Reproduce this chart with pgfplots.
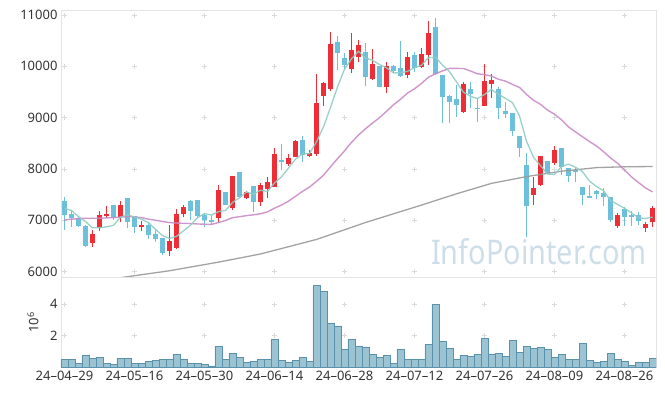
\documentclass[border=0pt]{standalone}
\usepackage{fontspec}
\setmainfont{Noto Sans}
\usepackage{pgfplots}
\pgfplotsset{compat=1.18}
\usepackage{pgfplotstable}

\definecolor{upc}{HTML}{EE2E36}
\definecolor{dnc}{HTML}{6CC0DA}
\definecolor{maA}{HTML}{8ECCC4}
\definecolor{maB}{HTML}{C98BC6}
\definecolor{maC}{HTML}{999999}
\definecolor{volf}{HTML}{9CC3D2}
\definecolor{vold}{HTML}{5A92AD}
\definecolor{tickc}{HTML}{333333}
\definecolor{framec}{HTML}{E3E3E3}
\definecolor{gridc}{HTML}{DADADA}
\definecolor{wm}{HTML}{CDDEE8}

\pgfplotstableread{
i o h l c
4 6565 6811 6487 6727
5 6844 7188 6798 7104
6 7084 7279 7039 7123
8 7060 7376 6960 7298
11 6876 6993 6798 6909
15 6409 6902 6311 6597
16 6454 7214 6440 7117
17 7117 7298 7071 7253
22 7039 7688 6974 7590
24 7246 7863 7201 7863
26 7441 7578 7409 7545
28 7363 7721 7279 7688
29 7610 7850 7428 7740
30 7656 8402 7640 8292
32 8097 8292 8058 8221
33 8227 8560 8227 8545
35 8260 8370 8240 8305
36 8292 9851 8253 9292
37 9429 9690 9227 9682
38 9558 10675 9526 10435
41 9955 10643 9864 10318
42 10175 10513 10091 10416
44 9747 10331 9734 10045
46 9604 10091 9487 10006
49 9831 10286 9766 10175
51 9994 10351 9961 10240
52 10221 10890 10026 10656
57 9117 9701 9084 9656
60 9234 10045 9220 9714
61 9656 9851 9377 9734
67 7493 7850 7298 7623
68 7688 8260 7669 8253
70 8110 8448 8078 8370
79 6889 7149 6844 7104
83 6844 6974 6766 6928
84 6974 7279 6876 7234
}\up

\pgfplotstableread{
i o h l c
0 7376 7461 6811 7104
1 7117 7201 6876 7039
2 7052 7071 6876 6889
3 6889 6909 6487 6506
7 7298 7298 7006 7039
9 7428 7428 6844 6974
10 7084 7084 6759 6876
12 6909 6974 6643 6714
13 6727 6811 6584 6643
14 6649 6649 6324 6357
18 7376 7396 7006 7188
19 7396 7396 7071 7084
20 7104 7136 6876 7006
21 7006 7104 6928 6974
23 7545 7558 7298 7298
25 7935 7935 7428 7461
27 7669 7669 7169 7363
31 8175 8487 7980 8143
34 8565 8643 8143 8273
39 10474 10591 9929 10266
40 10156 10253 9942 10026
43 10273 10461 9617 9786
45 10006 10006 9591 9604
47 10006 10026 9864 9909
48 9961 10500 9786 9812
50 10221 10286 9896 9961
53 10760 10935 9830 9851
54 9831 9831 8902 9409
55 9422 9442 8902 9312
56 9364 9636 9019 9247
58 9552 9701 9182 9461
59 9188 9377 8922 9175
62 9552 9591 8974 9182
63 9130 9312 8987 9071
64 9084 9084 8643 8747
65 8643 8643 8227 8415
66 8078 8305 6669 7285
69 8156 8156 7902 7928
71 8415 8415 7883 8045
72 8013 8013 7753 7870
73 7981 8013 7753 7948
74 7656 7656 7298 7493
75 7474 7688 7448 7448
76 7571 7591 7409 7513
77 7539 7623 7279 7461
78 7461 7461 6974 7006
80 7220 7253 6889 7071
81 7104 7182 6889 7058
82 7104 7156 6909 6993
}\down

\pgfplotstableread{
i v
0 7233
1 7188
2 7071
3 6974
4 6853
5 6853
6 6870
7 6900
8 7058
9 7108
10 7062
11 7019
12 6954
13 6823
14 6700
15 6644
16 6686
17 6793
18 6902
19 7048
20 7130
21 7101
22 7168
23 7190
24 7346
25 7437
26 7551
27 7506
28 7584
29 7559
30 7726
31 7845
32 8017
33 8188
34 8295
35 8297
36 8527
37 8819
38 9197
39 9596
40 9940
41 10145
42 10292
43 10162
44 10118
45 10034
46 9971
47 9870
48 9875
49 9901
50 9973
51 10019
52 10169
53 10177
54 10023
55 9894
56 9695
57 9495
58 9417
59 9370
60 9451
61 9548
62 9453
63 9375
64 9290
65 9030
66 8540
67 8228
68 8065
69 7901
70 7892
71 8044
72 8093
73 8032
74 7947
75 7763
76 7656
77 7575
78 7386
79 7308
80 7233
81 7142
82 7048
83 7033
84 7059
}\maFive

\pgfplotstableread{
i v
0 7006
1 7020
2 7030
3 7039
4 7039
5 7039
6 7045
7 7052
8 7060
9 7071
10 7065
11 7050
12 7020
13 7000
14 6975
15 6954
16 6945
17 6940
18 6935
19 6927
20 6922
21 6919
22 6954
23 6994
24 7050
25 7068
26 7089
27 7106
28 7125
29 7163
30 7234
31 7296
32 7371
33 7466
34 7562
35 7647
36 7756
37 7878
38 8040
39 8199
40 8350
41 8517
42 8659
43 8783
44 8892
45 8999
46 9122
47 9250
48 9356
49 9478
50 9561
51 9666
52 9788
53 9853
54 9910
55 9960
56 9958
57 9957
58 9908
59 9853
60 9838
61 9808
62 9747
63 9711
64 9646
65 9587
66 9451
67 9336
68 9258
69 9146
70 9066
71 8957
72 8817
73 8722
74 8626
75 8533
76 8447
77 8337
78 8214
79 8111
80 7978
81 7845
82 7735
83 7628
84 7552
}\maTwenty

\pgfplotstableread{
i v
0 5690
8 5880
15 6015
22 6183
28 6342
36 6625
43 6955
51 7295
56 7515
61 7718
66 7850
71 7955
76 8025
80 8042
84 8046
}\maLong

\pgfplotstableread{
i v
0 0.47
1 0.47
2 0.21
3 0.72
4 0.53
5 0.63
6 0.25
7 0.19
8 0.53
9 0.53
10 0.25
11 0.25
12 0.34
13 0.40
14 0.47
15 0.47
16 0.83
17 0.47
18 0.21
19 0.21
20 0.15
21 0.08
22 1.33
23 0.47
24 0.89
25 0.63
26 0.28
27 0.34
28 0.47
29 0.47
30 1.74
31 0.40
32 0.28
33 0.40
34 0.59
35 0.34
36 5.16
37 4.78
38 2.75
39 2.62
40 1.10
41 1.74
42 1.35
43 1.27
44 0.83
45 0.63
46 0.76
47 0.25
48 1.14
49 0.51
50 0.47
51 0.51
52 1.46
53 4.00
54 1.61
55 1.21
56 0.51
57 0.76
58 0.70
59 0.83
60 1.84
61 0.83
62 0.89
63 0.70
64 1.71
65 0.95
66 1.33
67 1.21
68 1.27
69 1.14
70 0.63
71 0.83
72 0.51
73 0.51
74 1.52
75 0.44
76 0.32
77 0.38
78 0.89
79 0.51
80 0.38
81 0.13
82 0.32
83 0.32
84 0.57
}\vol

\pgfplotsset{
  common/.style={
    scale only axis,
    width=595.3pt,
    xmin=-0.5, xmax=84.5,
    xtick={0,10,...,80},
    axis line style={framec, line width=0.8pt},
    major tick length=0pt,
    tick style={draw=none},
    ticklabel style={font=\fontsize{13}{15}\selectfont, text=tickc},
    scaled y ticks=false,
    /pgf/number format/assume math mode=true,
    /pgf/number format/1000 sep={},
    grid=major,
  },
  candle/.style 2 args={draw=none, mark=none, forget plot,
    error bars/.cd, y dir=both, y explicit, error mark=none,
    error bar style={draw=#1, line width=#2, solid}},
}

\begin{document}
\begin{tikzpicture}
\useasboundingbox (-61pt,-118.7pt) rectangle (604.3pt,277.3pt);
\begin{axis}[common,
  name=price, at={(0pt,0pt)}, anchor=south west,
  height=267.3pt,
  ymin=5890, ymax=11097,
  ytick={6000,7000,...,11000},
  xticklabels={},
  x grid style={gridc, line width=0.7pt, dash pattern=on 5pt off 46.33pt, dash phase=48.5pt},
  y grid style={gridc, line width=0.7pt, dash pattern=on 5pt off 65pt, dash phase=69pt},
]
% wicks
\addplot[candle={upc}{1.2pt}]
  table[x=i, y expr={(\thisrow{h}+\thisrow{l})/2}, y error expr={(\thisrow{h}-\thisrow{l})/2}] {\up};
\addplot[candle={dnc}{1.2pt}]
  table[x=i, y expr={(\thisrow{h}+\thisrow{l})/2}, y error expr={(\thisrow{h}-\thisrow{l})/2}] {\down};
% bodies
\addplot[candle={upc}{5pt}]
  table[x=i, y expr={(\thisrow{o}+\thisrow{c})/2}, y error expr={max(abs(\thisrow{c}-\thisrow{o})/2,10)}] {\up};
\addplot[candle={dnc}{5pt}]
  table[x=i, y expr={(\thisrow{o}+\thisrow{c})/2}, y error expr={max(abs(\thisrow{c}-\thisrow{o})/2,10)}] {\down};
% moving averages
\addplot[maC, line width=1.3pt, opacity=0.9] table[x=i, y=v] {\maLong};
\addplot[maB, line width=1.4pt, opacity=0.9] table[x=i, y=v] {\maTwenty};
\addplot[maA, line width=1.3pt, opacity=0.9] table[x=i, y=v] {\maFive};
\node[anchor=base east, text=wm, font=\fontsize{34}{34}\selectfont, xscale=0.85, inner sep=0pt]
  at (rel axis cs:0.9844,0.046) {InfoPointer.com};
\end{axis}
\begin{axis}[common,
  name=vol, at={(price.south west)}, anchor=north west,
  height=90pt,
  ymin=0, ymax=5.71,
  ytick={2,4},
  xticklabels={24--04--29,24--05--16,24--05--30,24--06--14,24--06--28,24--07--12,24--07--26,24--08--09,24--08--26},
  ylabel={10\textsuperscript{6}},
  ylabel style={at={(axis description cs:-0.047,0.5)}, anchor=center, font=\fontsize{13}{15}\selectfont, text=tickc},
  x grid style={gridc, line width=0.7pt, dash pattern=on 5pt off 26.5pt, dash phase=2.5pt},
  y grid style={gridc, line width=0.7pt, dash pattern=on 5pt off 65pt, dash phase=69pt},
]
\addplot[ybar, bar width=1, bar shift=0pt, fill=volf, draw=vold, line width=0.7pt] table[x=i, y=v] {\vol};
\end{axis}
\end{tikzpicture}
\end{document}
